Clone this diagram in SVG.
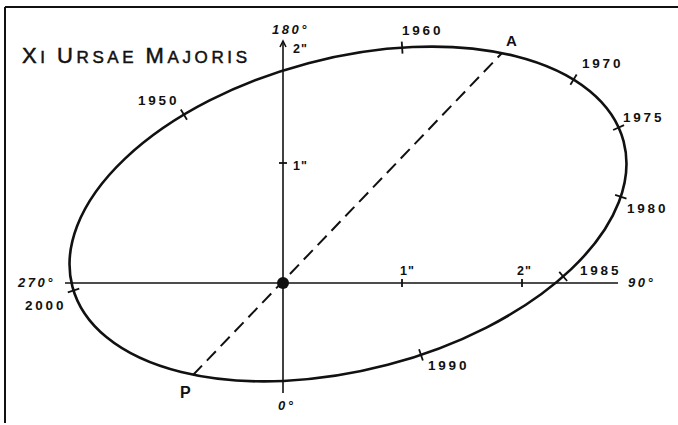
<svg xmlns="http://www.w3.org/2000/svg" width="678" height="425" viewBox="0 0 678 425">
<style>
.lbl{font-family:"Liberation Sans",Arial,sans-serif;font-size:13.5px;font-weight:bold;letter-spacing:2.8px;fill:#111}
.deg{font-family:"Liberation Sans",Arial,sans-serif;font-size:13px;font-style:italic;font-weight:bold;letter-spacing:2.5px;fill:#111}
.inch{font-family:"Liberation Sans",Arial,sans-serif;font-size:12.5px;font-weight:bold;letter-spacing:1px;fill:#111}
.axis{stroke:#111;stroke-width:1.6;fill:none}
.tick{stroke:#111;stroke-width:1.8}
</style>
<rect width="678" height="425" fill="#fff"/>
<g id="frame" stroke="#111" stroke-width="2" fill="none">
<line x1="5" y1="7" x2="678" y2="7"/>
<line x1="5" y1="7" x2="5" y2="423"/>
</g>
<g id="title">
<text x="22" y="63" font-family="Liberation Sans, Arial, sans-serif" fill="#111" stroke="#111" stroke-width="0.5" textLength="225" lengthAdjust="spacing"><tspan font-size="22">X</tspan><tspan font-size="17">I </tspan><tspan font-size="22">U</tspan><tspan font-size="17">RSAE </tspan><tspan font-size="22">M</tspan><tspan font-size="17">AJORIS</tspan></text>
</g>
<g id="axes">
<line class="axis" x1="283" y1="42" x2="283" y2="393"/>
<line class="axis" x1="65" y1="283" x2="618" y2="283"/>
<path d="M280,47 L283,41 L286,47" class="axis"/>
<line class="tick" x1="279" y1="163" x2="287" y2="163"/>
<line class="tick" x1="402" y1="279" x2="402" y2="287"/>
<line class="tick" x1="522" y1="279" x2="522" y2="287"/>
<text class="inch" x="293" y="53">2"</text>
<text class="inch" x="293" y="170">1"</text>
<text class="inch" x="400" y="275">1"</text>
<text class="inch" x="517" y="275">2"</text>
<text class="deg" x="272" y="34">180°</text>
<text class="deg" x="628" y="287">90°</text>
<text class="deg" x="18" y="287">270°</text>
<text class="deg" x="278" y="410">0°</text>
</g>
<g id="orbit">
<g transform="translate(348,214) rotate(-14.75)">
<ellipse cx="0" cy="0" rx="285" ry="156" fill="none" stroke="#111" stroke-width="2.6"/>
<line class="tick" x1="-6" y1="0" x2="6" y2="0" transform="translate(-133.4,-137.9) rotate(-106.2)"/>
<line class="tick" x1="-6" y1="0" x2="6" y2="0" transform="translate(94.7,-147.1) rotate(-79.1)"/>
<line class="tick" x1="-6" y1="0" x2="6" y2="0" transform="translate(252.3,-72.5) rotate(-43.8)"/>
<line class="tick" x1="-6" y1="0" x2="6" y2="0" transform="translate(283.7,-14.7) rotate(-9.8)"/>
<line class="tick" x1="-6" y1="0" x2="6" y2="0" transform="translate(268.2,52.8) rotate(33.3)"/>
<line class="tick" x1="-6" y1="0" x2="6" y2="0" transform="translate(192.2,115.2) rotate(63.4)"/>
<line class="tick" x1="-6" y1="0" x2="6" y2="0" transform="translate(34.7,154.8) rotate(86.2)"/>
<line class="tick" x1="-6" y1="0" x2="6" y2="0" transform="translate(-284.9,4.1) rotate(177.3)"/>
</g>
</g>
<g id="connectors">
<line x1="193" y1="375" x2="502" y2="53" stroke="#111" stroke-width="2" stroke-dasharray="13 7"/>
</g>
<g id="primary">
<circle cx="283" cy="283" r="6" fill="#111"/>
</g>
<g id="epochs">
<text class="lbl" x="138" y="105">1950</text>
<text class="lbl" x="402" y="35">1960</text>
<text class="lbl" x="582" y="68">1970</text>
<text class="lbl" x="623" y="122">1975</text>
<text class="lbl" x="627" y="213">1980</text>
<text class="lbl" x="580" y="275">1985</text>
<text class="lbl" x="428" y="370">1990</text>
<text class="lbl" x="25" y="310">2000</text>
</g>
<g id="apsides">
<text class="lbl" x="506" y="46" style="font-size:15px">A</text>
<text class="lbl" x="180" y="398" style="font-size:16px">P</text>
</g>
</svg>
